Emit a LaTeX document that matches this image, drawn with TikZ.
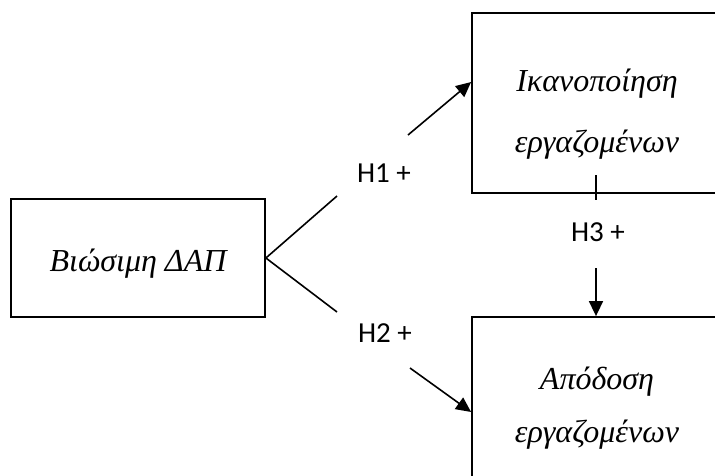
\documentclass[tikz,border=0pt]{standalone}
\usepackage{fontspec}
\setmainfont{Liberation Serif}
\newfontfamily\hfont{Carlito}
\usetikzlibrary{arrows.meta}
\tikzset{
  box/.style={draw,line width=1.8pt,minimum width=250pt,minimum height=180pt,inner sep=0pt},
  term/.style={font=\fontsize{32}{54}\selectfont\itshape,align=center},
  hyp/.style={font=\hfont\fontsize{29}{30}\selectfont},
  arr/.style={line width=1.6pt,-{Triangle[length=15pt,width=14pt]}}
}
\begin{document}
\begin{tikzpicture}[x=1pt,y=-1pt]
  \useasboundingbox (0,0) rectangle (715,475);
  \clip (0,0) rectangle (715,475);
  % the three constructs
  \node[box,minimum width=254pt,minimum height=118pt,
        label={[term,yshift=-6pt]center:Βιώσιμη ΔΑΠ}] (dap) at (138,258) {};
  \node[box,label={[term,yshift=-11pt]center:{Ικανοποίηση\\[7pt]εργαζομένων}}] (ikan) at (597,103) {};
  \node[box,label={[term,yshift=-1pt]center:{Απόδοση\\[-1pt]εργαζομένων}}] (apod) at (597,407) {};
  % hypotheses
  \coordinate (v1) at (337,196);
  \coordinate (v2) at (337,312);
  \coordinate (a1) at (408,135);
  \coordinate (a2) at (410,368);
  \draw[line width=1.6pt] (v1) -- (dap.east) -- (v2);
  \node[hyp] (h1) at (384,173) {H1 +};
  \node[hyp] (h2) at (385,333) {H2 +};
  \draw[arr] (a1) -- ([yshift=21pt]ikan.west);
  \draw[arr] (a2) -- ([yshift=-5pt]apod.west);
  \coordinate (b1) at (596,175);
  \coordinate (b2) at (596,200);
  \coordinate (b3) at (596,268);
  \node[hyp] (h3) at (598,232) {H3 +};
  \draw[line width=1.6pt] (b1) -- (b2);
  \draw[arr] (b3) -- (b3 |- apod.north);
\end{tikzpicture}
\end{document}
